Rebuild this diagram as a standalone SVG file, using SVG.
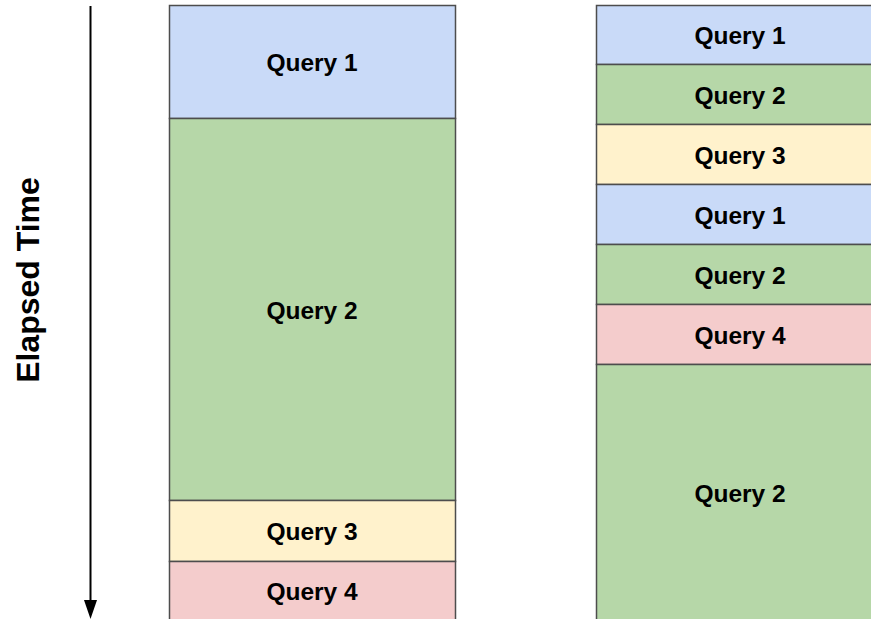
<svg xmlns="http://www.w3.org/2000/svg" width="871" height="619" viewBox="0 0 871 619">
<style>
.b{stroke:#4d4d4d;stroke-width:1.5}
.q1{fill:#c9daf8}.q2{fill:#b6d7a8}.q3{fill:#fff2cc}.q4{fill:#f4cccc}
text{font-family:"Liberation Sans",Arial,sans-serif;font-weight:bold;font-size:24.5px;fill:#000;text-anchor:middle;dominant-baseline:central}
text.ax{font-size:32px}
</style>
<rect width="871" height="619" fill="#fff"/>
<g id="connectors">
<line x1="90.5" y1="6" x2="90.5" y2="602" stroke="#000" stroke-width="2"/>
<path d="M84,600 L97,600 L90.5,619 Z" fill="#000"/>
</g>
<g id="axis-label"><text class="ax" transform="translate(28,280) rotate(-90)">Elapsed Time</text></g>
<g id="left-q1"><rect class="b q1" x="169.5" y="5.5" width="286" height="113"/><text x="312" y="62">Query 1</text></g>
<g id="left-q2"><rect class="b q2" x="169.5" y="118.5" width="286" height="382"/><text x="312" y="310">Query 2</text></g>
<g id="left-q3"><rect class="b q3" x="169.5" y="500.5" width="286" height="61"/><text x="312" y="531">Query 3</text></g>
<g id="left-q4"><rect class="b q4" x="169.5" y="561.5" width="286" height="70"/><text x="312" y="591">Query 4</text></g>
<g id="right-q1a"><rect class="b q1" x="596.5" y="5.5" width="288" height="59"/><text x="740" y="35">Query 1</text></g>
<g id="right-q2a"><rect class="b q2" x="596.5" y="64.5" width="288" height="60"/><text x="740" y="95">Query 2</text></g>
<g id="right-q3"><rect class="b q3" x="596.5" y="124.5" width="288" height="60"/><text x="740" y="155">Query 3</text></g>
<g id="right-q1b"><rect class="b q1" x="596.5" y="184.5" width="288" height="60"/><text x="740" y="215">Query 1</text></g>
<g id="right-q2b"><rect class="b q2" x="596.5" y="244.5" width="288" height="60"/><text x="740" y="275">Query 2</text></g>
<g id="right-q4"><rect class="b q4" x="596.5" y="304.5" width="288" height="60"/><text x="740" y="335">Query 4</text></g>
<g id="right-q2c"><rect class="b q2" x="596.5" y="364.5" width="288" height="270"/><text x="740" y="493">Query 2</text></g>
</svg>
